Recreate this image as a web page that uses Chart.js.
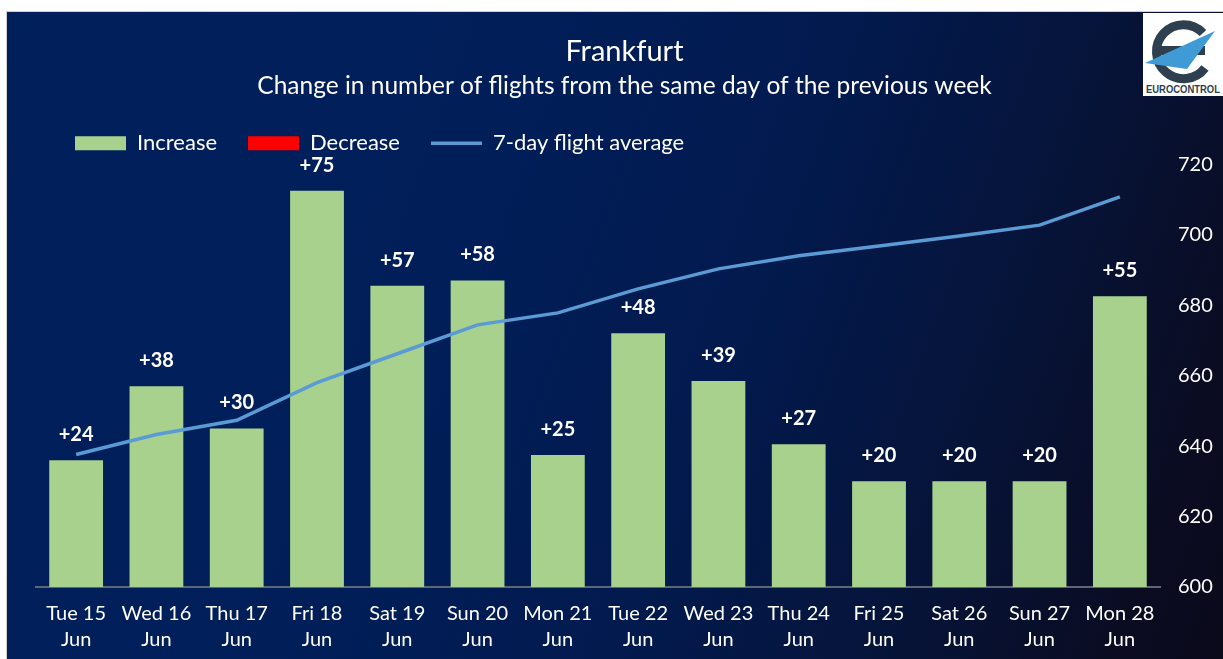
<!DOCTYPE html>
<html>
<head>
<meta charset="utf-8">
<script src="https://cdn.jsdelivr.net/npm/chart.js@4.4.1/dist/chart.umd.min.js"></script>
<style>
  html, body { margin: 0; padding: 0; background: #ffffff; }
  body { width: 1223px; height: 659px; position: relative; overflow: hidden; }
  #card {
    position: absolute; left: 6px; top: 11px; width: 1217px; height: 648px;
    border-left: 1px solid #d0d0d0; border-top: 1px solid #d0d0d0; box-sizing: border-box;
    background: linear-gradient(110deg, #00205c 0%, #011e58 38%, #021a4e 58%, #06143a 76%, #0a0c22 92%, #0b0a1b 100%);
  }
  #chartWrap { position: absolute; left: 0; top: 0; width: 1217px; height: 648px; }
  #logo { position: absolute; left: 1143px; top: 13px; width: 80px; height: 83px; background: #ffffff; }
</style>
</head>
<body>
<div id="card">
  <div id="chartWrap"><canvas id="c" width="1217" height="648"></canvas></div>
</div>
<div id="logo">
  <svg width="80" height="83" viewBox="0 0 80 83" xmlns="http://www.w3.org/2000/svg">
    <path d="M60 20 A27 27 0 1 0 62 55" fill="none" stroke="#2e3f4f" stroke-width="9"/>
    <rect x="14" y="33" width="48" height="9" fill="#2e3f4f"/>
    <polygon points="2,50 72,18 44,56" fill="#3f9ad6"/>
    <text x="3" y="80" font-family="Liberation Sans, Arial, sans-serif" font-size="11" font-weight="bold" fill="#2e3f4f" textLength="74" lengthAdjust="spacingAndGlyphs">EUROCONTROL</text>
  </svg>
</div>
<script>
const categories = [
  ['Tue 15', 'Jun'], ['Wed 16', 'Jun'], ['Thu 17', 'Jun'], ['Fri 18', 'Jun'],
  ['Sat 19', 'Jun'], ['Sun 20', 'Jun'], ['Mon 21', 'Jun'], ['Tue 22', 'Jun'],
  ['Wed 23', 'Jun'], ['Thu 24', 'Jun'], ['Fri 25', 'Jun'], ['Sat 26', 'Jun'],
  ['Sun 27', 'Jun'], ['Mon 28', 'Jun']
];
const increaseValues = [24, 38, 30, 75, 57, 58, 25, 48, 39, 27, 20, 20, 20, 55];
const decreaseValues = [null, null, null, null, null, null, null, null, null, null, null, null, null, null];
const averageValues = [637.6, 643.3, 647.3, 658.0, 666.2, 674.4, 677.8, 684.6, 690.3, 694.0, 696.8, 699.6, 702.7, 710.7];
const rightTicks = [600, 620, 640, 660, 680, 700, 720];

const FONT = "Lato, 'Open Sans', sans-serif";
const GREEN = '#a9d18e';
const RED = '#ff0000';
const BLUE = '#5b9bd5';

const barLabels = {
  id: 'barLabels',
  afterDatasetsDraw(chart) {
    const meta = chart.getDatasetMeta(0);
    const ctx = chart.ctx;
    ctx.save();
    ctx.font = 'bold 20px ' + FONT;
    ctx.fillStyle = '#ffffff';
    ctx.textAlign = 'center';
    ctx.textBaseline = 'alphabetic';
    meta.data.forEach((bar, i) => {
      const v = increaseValues[i];
      if (v == null) return;
      ctx.fillText('+' + v, bar.x, bar.y - 19);
    });
    ctx.restore();
  }
};

const legendShift = {
  id: 'legendShift',
  afterLayout(chart) {
    if (chart.legend) { chart.legend.left += 8; chart.legend.right += 8; }
  }
};

new Chart(document.getElementById('c'), {
  data: {
    labels: categories,
    datasets: [
      { type: 'bar', label: 'Increase', data: increaseValues, backgroundColor: GREEN, yAxisID: 'y', stack: 's', order: 2,
        barPercentage: 0.67, categoryPercentage: 1.0 },
      { type: 'bar', label: 'Decrease', data: decreaseValues, backgroundColor: RED, yAxisID: 'y', stack: 's', order: 3,
        barPercentage: 0.67, categoryPercentage: 1.0 },
      { type: 'line', label: '7-day flight average', data: averageValues, borderColor: BLUE, backgroundColor: BLUE,
        borderWidth: 3.5, pointRadius: 0, tension: 0, yAxisID: 'y2', order: 1 }
    ]
  },
  options: {
    responsive: false,
    animation: false,
    layout: { padding: { left: 29, right: 11, top: 0, bottom: 7 } },
    scales: {
      x: {
        stacked: true,
        grid: { display: false, drawTicks: false },
        border: { display: true, color: '#5d6675', width: 2 },
        afterFit: (scale) => { scale.height = 66; },
        ticks: { color: '#ffffff', font: { family: FONT, size: 20, lineHeight: 1.3 }, padding: 14, maxRotation: 0, autoSkip: false }
      },
      y: {
        display: false, stacked: true, min: 0, max: 80
      },
      y2: {
        position: 'right', min: 600, max: 720,
        grid: { display: false, drawTicks: false },
        border: { display: false },
        afterBuildTicks: (scale) => { scale.ticks = rightTicks.map(v => ({ value: v })); },
        afterFit: (scale) => { scale.width = 53; },
        ticks: { color: '#ffffff', font: { family: FONT, size: 20 }, padding: 18 }
      }
    },
    plugins: {
      title: {
        display: true, text: 'Frankfurt', color: '#ffffff',
        font: { family: FONT, size: 29, weight: 'normal', lineHeight: 1.2 },
        padding: { top: 22, bottom: 3 }
      },
      subtitle: {
        display: true, text: 'Change in number of flights from the same day of the previous week', color: '#ffffff',
        font: { family: FONT, size: 24.5, weight: 'normal', lineHeight: 1.2 },
        padding: { top: 0, bottom: 0 }
      },
      legend: {
        position: 'top', align: 'start',
        labels: {
          color: '#ffffff', font: { family: FONT, size: 22 }, padding: 31,
          usePointStyle: true, pointStyleWidth: 51, boxHeight: 14,
          generateLabels: () => [
            { text: 'Increase', fillStyle: GREEN, strokeStyle: GREEN, lineWidth: 0, pointStyle: 'rect', fontColor: '#ffffff', datasetIndex: 0 },
            { text: 'Decrease', fillStyle: RED, strokeStyle: RED, lineWidth: 0, pointStyle: 'rect', fontColor: '#ffffff', datasetIndex: 1 },
            { text: '7-day flight average', fillStyle: 'rgba(0,0,0,0)', strokeStyle: BLUE, lineWidth: 3.5, pointStyle: 'line', fontColor: '#ffffff', datasetIndex: 2 }
          ]
        }
      },
      tooltip: { enabled: false }
    }
  },
  plugins: [barLabels, legendShift]
});
</script>
</body>
</html>
